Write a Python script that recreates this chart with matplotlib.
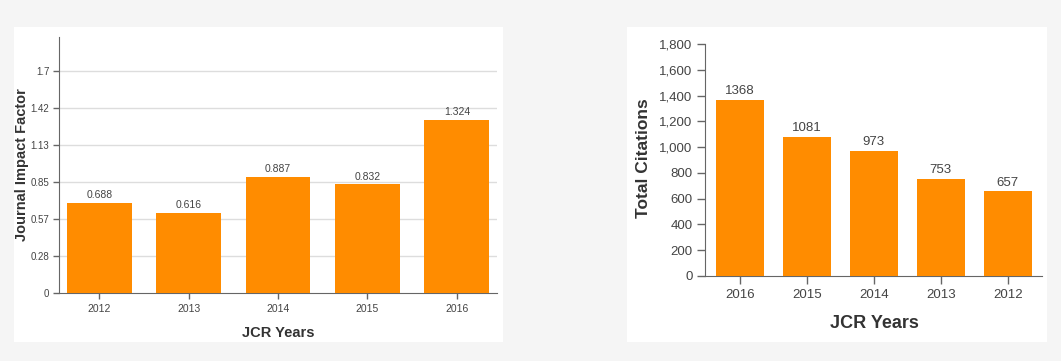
import matplotlib
matplotlib.use("Agg")
import matplotlib.pyplot as plt
from matplotlib.patches import Rectangle

# impact factor by year
jif_years = ["2012", "2013", "2014", "2015", "2016"]
jif_values = [0.688, 0.616, 0.887, 0.832, 1.324]
jif_ticks = [0, 0.2833, 0.5667, 0.85, 1.1333, 1.4167, 1.7]
jif_tick_labels = ["0", "0.28", "0.57", "0.85", "1.13", "1.42", "1.7"]

# total citations by year
cit_years = ["2016", "2015", "2014", "2013", "2012"]
cit_values = [1368, 1081, 973, 753, 657]
cit_ticks = [0, 200, 400, 600, 800, 1000, 1200, 1400, 1600, 1800]

plt.rcParams['font.family'] = ['Liberation Sans', 'DejaVu Sans']
W, H = 1061, 361
orange = '#FF8C00'
txt = '#444444'
spine = '#666666'

fig = plt.figure(figsize=(W / 100, H / 100), dpi=100)
fig.patch.set_facecolor('#f5f5f5')

# white panels behind the charts
for x0, x1 in [(14, 503), (627, 1047)]:
    fig.patches.append(Rectangle((x0 / W, 1 - 342 / H), (x1 - x0) / W, (342 - 27) / H,
                                 transform=fig.transFigure, facecolor='white',
                                 edgecolor='none', zorder=-1))

def frac(px, py):
    return px / W, 1 - py / H

# left chart
ax1 = fig.add_axes([59 / W, 1 - 293 / H, (497 - 59) / W, (293 - 37) / H])
ax1.set_facecolor('white')
ax1.bar(range(len(jif_years)), jif_values, width=0.726, color=orange, zorder=3)
ax1.set_xlim(-0.45, 4.45)
ax1.set_ylim(0, 1.96)
ax1.set_yticks(jif_ticks)
ax1.set_yticklabels(jif_tick_labels)
ax1.set_xticks(range(len(jif_years)))
ax1.set_xticklabels(jif_years)
for t in jif_ticks[1:]:
    ax1.axhline(t, color='#dddddd', lw=1, zorder=1)
for i, v in enumerate(jif_values):
    ax1.annotate(str(v), (i, v), xytext=(0, 2), textcoords='offset points',
                 ha='center', va='bottom', fontsize=7.5, color=txt)
ax1.tick_params(axis='y', labelsize=7, colors=txt, length=4, width=1, pad=3)
ax1.tick_params(axis='x', labelsize=7.5, colors=txt, length=4, width=1, pad=4)
ax1.tick_params(axis='both', color=spine)
for s in ['top', 'right']:
    ax1.spines[s].set_visible(False)
for s in ['left', 'bottom']:
    ax1.spines[s].set_color(spine)
fig.text(*frac(278, 333), "JCR Years", ha='center', va='center',
         fontsize=10.5, fontweight='bold', color='#333333')
fig.text(*frac(22, 165), "Journal Impact Factor", ha='center', va='center',
         rotation=90, fontsize=10.5, fontweight='bold', color='#333333')

# right chart
ax2 = fig.add_axes([705 / W, 1 - 276 / H, (1042 - 705) / W, (276 - 44) / H])
ax2.set_facecolor('white')
ax2.bar(range(len(cit_years)), cit_values, width=0.72, color=orange, zorder=3)
ax2.set_xlim(-0.52, 4.51)
ax2.set_ylim(0, 1800)
ax2.set_yticks(cit_ticks)
ax2.set_yticklabels([f"{t:,}" for t in cit_ticks])
ax2.set_xticks(range(len(cit_years)))
ax2.set_xticklabels(cit_years)
for i, v in enumerate(cit_values):
    ax2.annotate(str(v), (i, v), xytext=(0, 2), textcoords='offset points',
                 ha='center', va='bottom', fontsize=9.5, color=txt)
ax2.tick_params(axis='both', labelsize=9.5, colors=txt, length=6, width=1, pad=3)
ax2.tick_params(axis='both', color=spine)
for s in ['top', 'right']:
    ax2.spines[s].set_visible(False)
for s in ['left', 'bottom']:
    ax2.spines[s].set_color(spine)
fig.text(*frac(874, 324), "JCR Years", ha='center', va='center',
         fontsize=13, fontweight='bold', color='#333333')
fig.text(*frac(643, 158), "Total Citations", ha='center', va='center',
         rotation=90, fontsize=12.5, fontweight='bold', color='#333333')

fig.savefig("out.png", dpi=100, facecolor=fig.get_facecolor())
